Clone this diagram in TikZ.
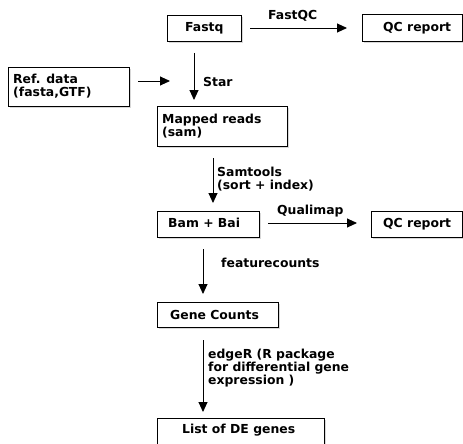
\documentclass[tikz,border=0pt]{standalone}
\usepackage{fontspec}
\setmainfont{DejaVu Sans}
\usetikzlibrary{arrows.meta,shadows}
\begin{document}
\begin{tikzpicture}[x=1pt,y=-1pt,
  box/.style={draw=black, line width=0.9pt, fill=white, inner sep=0pt, anchor=north west,
    drop shadow={shadow xshift=1.5pt, shadow yshift=-2pt, opacity=0.3}},
  txt/.style={font=\fontsize{12.4}{12.8}\selectfont\bfseries, inner sep=0pt, align=left},
  flow/.style={-{Triangle[length=10pt,width=9pt]}, line width=0.9pt}]
\clip[use as bounding box] (0,0) rectangle (463,444);
\fill[white] (0,0) rectangle (463,444);
% boxes
\node[box, minimum width=74, minimum height=26] (fastq) at (167,15) {};
\node[box, minimum width=100, minimum height=27] (qc1) at (362,14) {};
\node[box, minimum width=121, minimum height=39] (ref) at (8,67) {};
\node[box, minimum width=130, minimum height=40] (mapped) at (157,106) {};
\node[box, minimum width=102, minimum height=26] (bam) at (157,211) {};
\node[box, minimum width=91, minimum height=26] (qc2) at (371,211) {};
\node[box, minimum width=121, minimum height=25] (gene) at (157,302) {};
\node[box, minimum width=167, minimum height=52] (list) at (157,418) {};
% box texts
\node[txt, anchor=base west] (fastqt) at (185,32) {Fastq};
\node[txt, anchor=base west] (qc1t) at (383,32) {QC report};
\node[txt, anchor=north west] (reft) at (13,74) {Ref. data\\(fasta,GTF)};
\node[txt, anchor=north west] (mappedt) at (162,114) {Mapped reads\\(sam)};
\node[txt, anchor=base west] (bamt) at (168,227) {Bam + Bai};
\node[txt, anchor=base west] (qc2t) at (383,227) {QC report};
\node[txt, anchor=base west] (genet) at (170,319) {Gene Counts};
\node[txt, anchor=base west] (listt) at (182,433) {List of DE genes};
% arrow ends
\coordinate (a1s) at (250,28);  \coordinate (a1e) at (347,28);
\coordinate (a2s) at (138,81);  \coordinate (a2e) at (170,81);
\coordinate (a3s) at (194,53);  \coordinate (a3e) at (194,100);
\coordinate (a4s) at (213,158); \coordinate (a4e) at (213,203);
\coordinate (a5s) at (268,223); \coordinate (a5e) at (357,223);
\coordinate (a6s) at (203,249); \coordinate (a6e) at (203,294);
\coordinate (a7s) at (203,340); \coordinate (a7e) at (203,412);
\draw[flow] (a1s) -- (a1e);
\draw[flow] (a2s) -- (a2e);
\draw[flow] (a3s) -- (a3e);
\draw[flow] (a4s) -- (a4e);
\draw[flow] (a5s) -- (a5e);
\draw[flow] (a6s) -- (a6e);
\draw[flow] (a7s) -- (a7e);
% arrow labels
\node[txt, anchor=base west] (l1) at (268,20) {FastQC};
\node[txt, anchor=base west] (l3) at (203,86) {Star};
\node[txt, anchor=north west] (l4) at (217,167) {Samtools\\(sort + index)};
\node[txt, anchor=base west] (l5) at (277,214) {Qualimap};
\node[txt, anchor=base west] (l6) at (221,267) {featurecounts};
\node[txt, anchor=north west] (l7) at (208,349) {edgeR (R package\\for differential gene\\expression )};
\end{tikzpicture}
\end{document}
